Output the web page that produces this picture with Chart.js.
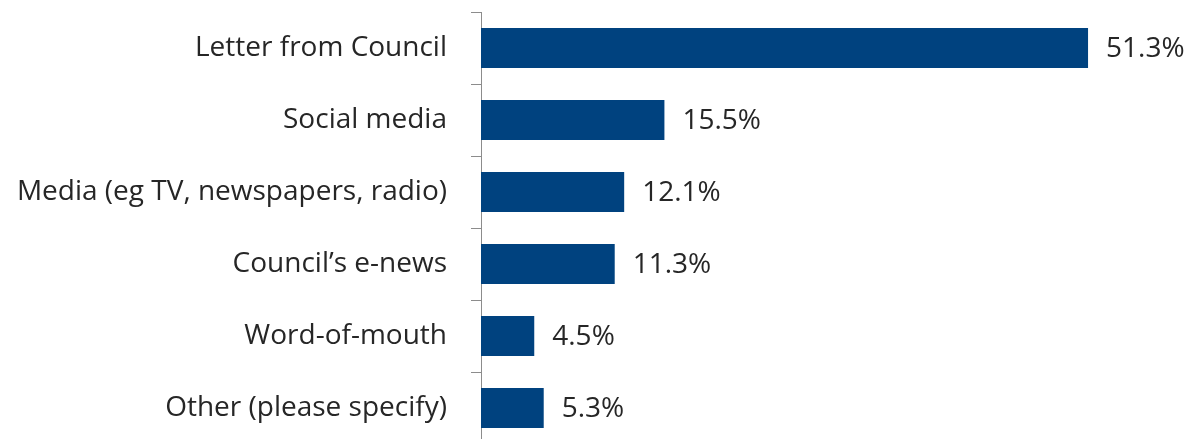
<!DOCTYPE html>
<html lang="en">
  <head>
    <meta charset="UTF-8" />
    <title>How did you hear about it?</title>
    <style>
      html, body {
        margin: 0;
        padding: 0;
        background: #fff;
        overflow: hidden;
      }
    </style>
  </head>
  <body>
    <canvas id="sources" width="1196" height="450"></canvas>

    <script src="https://cdn.jsdelivr.net/npm/chart.js"></script>

    <script>
      const categories = [
        'Letter from Council',
        'Social media',
        'Media (eg TV, newspapers, radio)',
        'Council\u2019s e-news',
        'Word-of-mouth',
        'Other (please specify)',
      ];
      const percentages = [51.3, 15.5, 12.1, 11.3, 4.5, 5.3];

      const FONT = { family: '"Open Sans", "Noto Sans", sans-serif', size: 28 };
      const TEXT_COLOR = '#262626';
      const AXIS_COLOR = '#8c8c8c';

      // writes "xx.x%" just past the end of each bar
      const valueLabels = {
        id: 'valueLabels',
        afterDatasetsDraw(chart) {
          const ctx = chart.ctx;
          const meta = chart.getDatasetMeta(0);
          ctx.save();
          ctx.font = `${FONT.size}px ${FONT.family}`;
          ctx.fillStyle = TEXT_COLOR;
          ctx.textAlign = 'left';
          ctx.textBaseline = 'middle';
          meta.data.forEach((bar, i) => {
            ctx.fillText(percentages[i].toFixed(1) + '%', bar.x + 18, bar.y + 1);
          });
          ctx.restore();
        },
      };

      new Chart(document.getElementById('sources'), {
        type: 'bar',
        data: {
          labels: categories,
          datasets: [
            {
              data: percentages,
              backgroundColor: '#00427f',
              categoryPercentage: 1,
              barPercentage: 0.556,
            },
          ],
        },
        options: {
          indexAxis: 'y',
          responsive: false,
          animation: false,
          layout: { padding: { top: 12, bottom: 6, right: 5 } },
          plugins: {
            legend: { display: false },
            tooltip: { enabled: false },
          },
          scales: {
            x: {
              display: false,
              min: 0,
              max: 60,
            },
            y: {
              afterFit(scale) {
                // fixed axis width, and no extra room above/below for label overhang
                scale.width = 481;
                scale.paddingTop = 0;
                scale.paddingBottom = 0;
              },
              grid: {
                drawOnChartArea: false,
                drawTicks: true,
                tickLength: 10,
                color: AXIS_COLOR,
              },
              border: { color: AXIS_COLOR, width: 1 },
              ticks: {
                padding: 24,
                color: TEXT_COLOR,
                font: FONT,
              },
            },
          },
        },
        plugins: [valueLabels],
      });
    </script>
  </body>
</html>
